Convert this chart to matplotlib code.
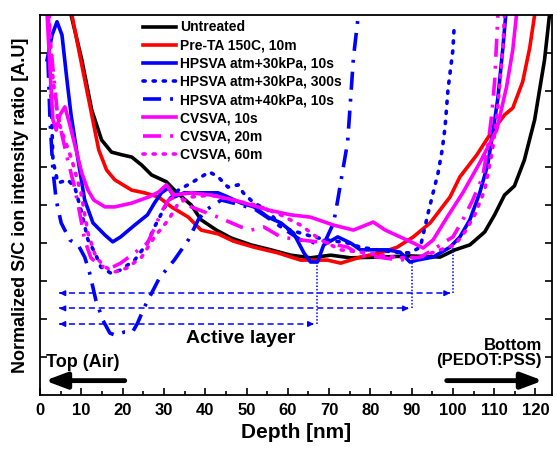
import matplotlib
matplotlib.use("Agg")
import matplotlib.pyplot as plt

plt.rcParams['font.family'] = ['Liberation Sans', 'DejaVu Sans']
plt.rcParams['font.weight'] = 'bold'

# depth [nm] / normalized ratio [A.U]
untreated_x = [7.5, 10.1, 12.5, 14.9, 17.3, 19.8, 22.2, 24.6, 27.0, 30.6, 33.0, 36.6, 39.0, 42.7, 46.3,
               51.1, 55.9, 60.7, 65.5, 70.4, 75.2, 82.4, 89.6, 96.9, 100.5, 104.1, 107.7, 110.1, 112.5,
               114.9, 117.3, 119.8, 122.2, 123.4]
untreated_y = [10.0, 8.82, 7.5, 6.71, 6.39, 6.32, 6.26, 6.05, 5.79, 5.61, 5.34, 5.0, 4.61, 4.34, 4.13,
               3.95, 3.82, 3.68, 3.61, 3.68, 3.61, 3.63, 3.66, 3.63, 3.82, 3.95, 4.29, 4.74, 5.26,
               5.5, 6.18, 7.24, 8.82, 10.0]

pre_ta_x = [7.7, 9.6, 11.8, 14.2, 16.1, 18.1, 22.2, 25.3, 28.7, 31.8, 35.9, 39.0, 43.1, 46.8, 51.8,
            57.6, 63.1, 69.6, 72.8, 77.6, 82.4, 86.5, 90.4, 94.5, 99.3, 101.7, 105.8, 108.9, 112.5,
            114.5, 116.9, 118.6, 119.8]
pre_ta_y = [10.0, 8.95, 7.76, 6.45, 5.92, 5.66, 5.39, 5.32, 5.21, 4.95, 4.68, 4.34, 4.24, 4.05, 3.89,
            3.74, 3.55, 3.55, 3.47, 3.63, 3.74, 3.89, 4.16, 4.53, 5.21, 5.74, 6.32, 6.84, 7.37,
            7.55, 8.24, 9.13, 10.0]

hp30_10s_x = [1.7, 2.9, 4.1, 5.3, 6.5, 7.5, 9.2, 10.8, 12.8, 15.7, 17.6, 19.5, 22.9, 26.0, 27.7, 29.4,
              31.1, 32.5, 34.9, 38.3, 43.1, 45.5, 48.7, 51.8, 55.2, 58.3, 61.4, 63.9, 65.5, 67.2, 68.7,
              72.1, 75.2, 77.6, 84.1, 87.2, 89.6, 91.3, 95.2, 99.3, 101.7, 104.1, 106.5, 108.4, 109.7,
              110.9, 112.1, 112.8]
hp30_10s_y = [8.82, 9.47, 9.82, 9.47, 8.29, 7.37, 6.18, 5.13, 4.53, 4.21, 4.03, 4.16, 4.47, 4.74, 5.05,
              5.32, 5.45, 5.21, 5.32, 5.32, 5.32, 5.21, 5.05, 4.95, 4.68, 4.53, 4.26, 3.74, 3.5, 3.5,
              3.95, 4.16, 4.0, 3.82, 3.82, 3.76, 3.5, 3.55, 3.63, 3.89, 4.16, 4.61, 5.32, 6.05, 6.92,
              7.82, 9.13, 10.0]

hp30_300s_x = [2.2, 2.7, 3.1, 4.3, 6.7, 8.4, 9.9, 11.6, 13.3, 14.7, 17.1, 19.5, 22.9, 26.0, 27.7, 31.1,
               33.5, 36.6, 39.8, 41.0, 43.1, 45.5, 48.0, 49.2, 51.8, 55.2, 58.3, 63.1, 66.3, 69.6, 74.5,
               77.6, 81.7, 85.6, 89.6, 92.1, 94.0, 95.2, 96.4, 97.4, 98.1, 98.8, 100.0, 100.3]
hp30_300s_y = [8.95, 7.76, 6.18, 5.58, 5.66, 5.47, 4.87, 4.08, 3.74, 3.37, 3.21, 3.29, 3.55, 4.0, 4.42,
               5.13, 5.39, 5.58, 5.79, 5.87, 5.74, 5.47, 5.53, 5.32, 5.05, 4.87, 4.42, 4.26, 4.16, 4.08,
               4.0, 3.89, 3.82, 3.76, 3.74, 3.89, 4.79, 5.32, 5.84, 6.45, 7.05, 8.03, 9.08, 9.68]

hp40_10s_x = [1.9, 2.4, 3.1, 3.9, 5.1, 7.2, 9.2, 10.8, 12.0, 13.5, 15.2, 16.9, 18.1, 20.5, 22.4, 23.6,
              25.3, 28.9, 32.5, 35.9, 38.3, 40.2, 43.9, 48.7, 52.3, 55.9, 59.5, 63.1, 66.7, 69.2, 71.1,
              72.1, 72.8, 74.5, 75.2, 75.9, 77.1]
hp40_10s_y = [8.82, 7.24, 5.92, 5.13, 4.53, 4.08, 3.95, 3.63, 3.21, 2.5, 1.97, 1.63, 1.58, 1.66, 1.66,
              1.89, 2.32, 3.08, 3.55, 4.08, 4.61, 4.87, 5.13, 5.0, 4.87, 4.61, 4.34, 4.08, 4.0, 4.08,
              4.53, 5.13, 5.58, 6.66, 7.76, 8.87, 10.0]

cv_10s_x = [1.7, 2.4, 3.1, 3.9, 4.8, 6.0, 7.2, 8.7, 10.1, 11.6, 13.0, 15.7, 18.1, 22.2, 26.3, 28.7, 30.6,
            32.3, 36.6, 41.4, 47.0, 51.1, 55.2, 60.7, 65.5, 71.1, 75.9, 80.7, 83.6, 87.2, 90.4, 92.8,
            95.2, 98.6, 102.4, 106.5, 110.6, 113.0, 114.5, 115.4]
cv_10s_y = [10.0, 8.55, 7.24, 6.97, 7.37, 7.58, 7.11, 6.45, 5.84, 5.39, 5.13, 4.95, 4.95, 5.05, 5.21,
            5.34, 5.53, 5.26, 5.32, 5.26, 5.13, 5.0, 4.87, 4.74, 4.68, 4.47, 4.34, 4.55, 4.34, 4.16,
            4.0, 3.87, 4.08, 4.68, 5.32, 6.11, 6.97, 8.11, 9.08, 10.0]

cv_20m_x = [1.9, 2.9, 4.1, 5.3, 6.7, 8.2, 9.6, 10.8, 12.3, 14.7, 17.1, 19.5, 22.9, 26.0, 27.7, 29.4,
            31.1, 33.5, 36.6, 43.1, 48.7, 51.1, 54.2, 58.3, 63.1, 69.6, 74.5, 77.6, 81.7, 87.2, 92.1,
            95.2, 97.6, 100.0, 102.4, 104.8, 107.2, 108.4, 109.4, 110.1, 110.9]
cv_20m_y = [10.0, 8.82, 7.5, 6.84, 6.18, 5.53, 4.79, 4.08, 3.61, 3.39, 3.34, 3.47, 3.74, 4.0, 4.39,
            4.82, 5.13, 5.26, 4.95, 4.68, 4.42, 4.34, 4.42, 4.16, 4.08, 4.0, 3.89, 3.68, 3.63, 3.55,
            3.63, 3.82, 4.0, 4.16, 4.61, 5.13, 5.74, 6.5, 7.37, 8.24, 10.0]

cv_60m_x = [2.2, 2.9, 4.3, 6.0, 7.7, 9.9, 11.6, 13.5, 15.7, 18.1, 21.0, 24.6, 27.7, 31.1, 33.5, 36.6,
            41.4, 46.3, 52.3, 58.3, 63.1, 68.0, 72.8, 77.6, 82.4, 87.2, 92.1, 96.9, 100.5, 102.9,
            105.3, 107.7, 109.6, 110.8, 112.1, 112.5]
cv_60m_y = [10.0, 8.55, 7.24, 6.71, 6.18, 5.32, 4.26, 3.63, 3.37, 3.24, 3.34, 3.63, 4.16, 4.61, 5.05,
            5.21, 5.26, 5.13, 5.0, 4.74, 4.47, 4.08, 3.82, 3.76, 3.68, 3.61, 3.63, 3.82, 3.95, 4.29,
            4.74, 5.39, 6.45, 7.5, 9.13, 10.0]

labels = ["Untreated", "Pre-TA 150C, 10m", "HPSVA atm+30kPa, 10s", "HPSVA atm+30kPa, 300s",
          "HPSVA atm+40kPa, 10s", "CVSVA, 10s", "CVSVA, 20m", "CVSVA, 60m"]

# active layer thickness markers
layer_ends = [100, 90, 67]
layer_arrow_y = [2.68, 2.28, 1.87]
layer_top_y = [3.89, 3.5, 3.55]

fig = plt.figure(figsize=(5.57, 4.51), dpi=100)
ax = fig.add_axes([0.072, 0.124, 0.919, 0.843])

lw = 2.6
ax.plot(untreated_x, untreated_y, color='black', lw=lw, label=labels[0])
ax.plot(pre_ta_x, pre_ta_y, color='red', lw=lw, label=labels[1])
ax.plot(hp30_10s_x, hp30_10s_y, color='blue', lw=lw, label=labels[2])
ax.plot(hp30_300s_x, hp30_300s_y, color='blue', lw=lw, ls=(0, (0.6, 2.2)),
        dash_capstyle='round', label=labels[3])
ax.plot(hp40_10s_x, hp40_10s_y, color='blue', lw=lw, ls=(0, (5, 2.5, 0.8, 2.5)), label=labels[4])
ax.plot(cv_10s_x, cv_10s_y, color='magenta', lw=lw, label=labels[5])
ax.plot(cv_20m_x, cv_20m_y, color='magenta', lw=lw, ls=(0, (5, 2.5, 0.8, 2.5)), label=labels[6])
ax.plot(cv_60m_x, cv_60m_y, color='magenta', lw=lw, ls=(0, (0.6, 2.2)),
        dash_capstyle='round', label=labels[7])

# dashed double arrows + dotted drop lines
for xe, ya, yt in zip(layer_ends, layer_arrow_y, layer_top_y):
    ax.plot([4.5, xe - 0.8], [ya, ya], color='blue', lw=1.1, ls=(0, (4, 2.5)))
    ax.annotate('', xy=(4, ya), xytext=(6, ya),
                arrowprops=dict(arrowstyle='-|>', color='blue', lw=1.1, mutation_scale=8))
    ax.annotate('', xy=(xe, ya), xytext=(xe - 2, ya),
                arrowprops=dict(arrowstyle='-|>', color='blue', lw=1.1, mutation_scale=8))
    ax.plot([xe, xe], [ya, yt], color='blue', lw=1.1, ls=(0, (1, 1.2)))

ax.text(48.5, 1.5, "Active layer", fontsize=14, fontweight='bold', ha='center', va='center')

big_arrow = dict(arrowstyle='-|>,head_length=0.8,head_width=0.3', color='black',
                 lw=3.5, mutation_scale=16, shrinkA=0, shrinkB=0)
ax.text(1.5, 0.85, "Top (Air)", fontsize=13, fontweight='bold', ha='left', va='center')
ax.annotate('', xy=(1.2, 0.38), xytext=(20.5, 0.38), arrowprops=big_arrow)
ax.text(121.5, 1.1, "Bottom\n(PEDOT:PSS)", fontsize=12, fontweight='bold', ha='right',
        va='center', linespacing=1.0, multialignment='right')
ax.annotate('', xy=(121.8, 0.38), xytext=(98.5, 0.38), arrowprops=big_arrow)

ax.set_xlim(0, 124)
ax.set_ylim(0, 10)
ax.set_xticks(range(0, 121, 10))
ax.set_xticks(range(5, 124, 10), minor=True)
ax.set_yticks(range(1, 10))
ax.tick_params(axis='x', direction='in', length=5, width=1.2, labelsize=12, pad=6)
ax.tick_params(axis='x', which='minor', direction='in', length=3, width=1.2)
ax.tick_params(axis='y', direction='in', length=5, width=1.2, left=True, right=True,
               labelleft=False)
for lab in ax.get_xticklabels():
    lab.set_fontweight('bold')
for sp in ax.spines.values():
    sp.set_linewidth(1.3)

ax.set_xlabel("Depth [nm]", fontsize=15, fontweight='bold', labelpad=3)
ax.set_ylabel("Normalized S/C ion intensity ratio [A.U]", fontsize=13, fontweight='bold', labelpad=8)

ax.legend(loc='upper left', bbox_to_anchor=(0.19, 1.0), frameon=False,
          handlelength=2.4, handletextpad=0.3, labelspacing=0.3, borderaxespad=0.2, borderpad=0.2,
          prop={'weight': 'bold', 'size': 10})

fig.savefig("out.png", dpi=100)
